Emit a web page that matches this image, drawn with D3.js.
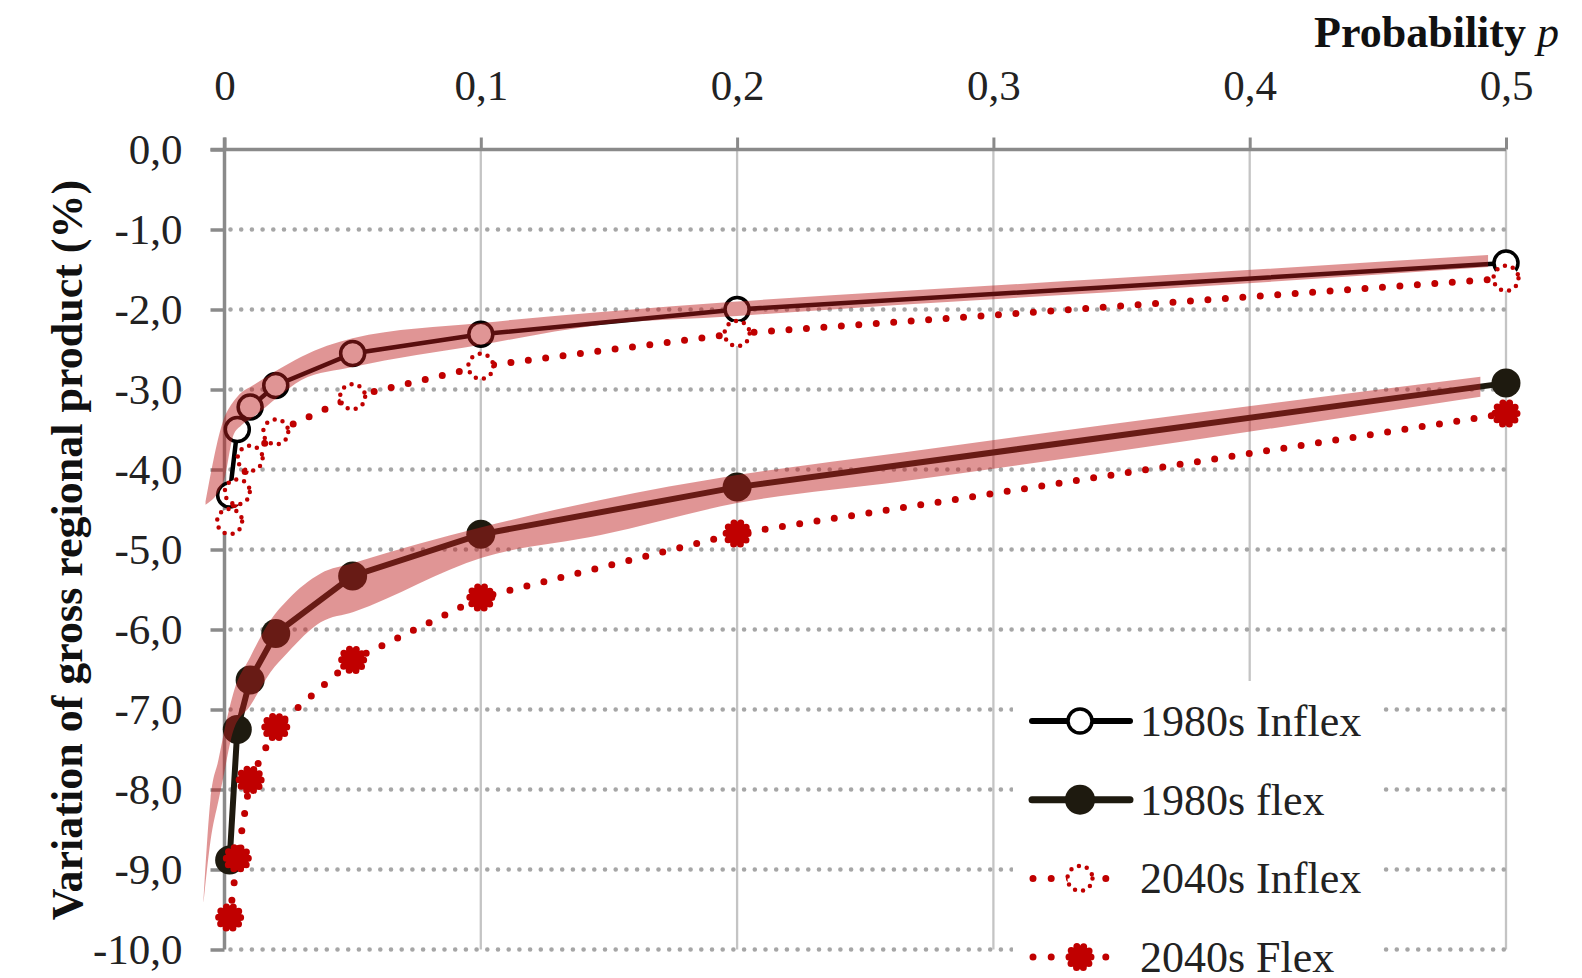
<!DOCTYPE html>
<html>
<head>
<meta charset="utf-8">
<script src="https://cdn.jsdelivr.net/npm/d3@7"></script>
<style>
  body { margin: 0; background: #fff; }
  svg { display: block; font-family: "Liberation Serif", serif; }
</style>
</head>
<body>
<svg id="chart" width="1582" height="978"></svg>
<script>
// values (p = exceedance probability, values in %)
var probability = [0.002, 0.005, 0.01, 0.02, 0.05, 0.1, 0.2, 0.5];
var inflex1980 = [-4.32, -3.50, -3.22, -2.95, -2.55, -2.31, -2.00, -1.42];
var flex1980   = [-8.88, -7.25, -6.63, -6.05, -5.33, -4.81, -4.22, -2.92];
var inflex2040 = [-4.65, -4.28, -3.86, -3.53, -3.09, -2.71, -2.30, -1.61];
var flex2040   = [-9.60, -8.86, -7.88, -7.22, -6.38, -5.60, -4.80, -3.30];

// shaded ranges round the 1980s curves
var band1P     = [-0.0074, -0.0004, 0.0035, 0.0065, 0.011, 0.021, 0.03, 0.05, 0.1, 0.147, 0.2, 0.264, 0.342, 0.493];
var band1Upper = [-4.40, -3.38, -3.15, -3.04, -2.95, -2.75, -2.59, -2.36, -2.17, -2.03, -1.90, -1.77, -1.62, -1.32];
var band1Lower = [-4.44, -4.15, -3.57, -3.45, -3.35, -3.09, -2.88, -2.72, -2.44, -2.19, -2.08, -1.94, -1.79, -1.47];

var band2P     = [-0.0082, -0.0055, -0.0023, -0.0008, 0.0035, 0.0101, 0.018, 0.0246, 0.0375, 0.0503, 0.1007, 0.1468, 0.2, 0.264, 0.342, 0.49];
var band2Upper = [-9.38, -8.13, -7.62, -7.38, -6.79, -6.34, -5.88, -5.63, -5.30, -5.17, -4.72, -4.38, -4.07, -3.79, -3.45, -2.84];
var band2Lower = [-9.42, -8.65, -8.13, -7.90, -7.26, -6.95, -6.53, -6.29, -5.91, -5.78, -5.10, -4.82, -4.42, -4.15, -3.80, -3.09];

var xTicks = [0, 0.1, 0.2, 0.3, 0.4, 0.5];
var xTickLabels = ["0", "0,1", "0,2", "0,3", "0,4", "0,5"];
var yTicks = [0, -1, -2, -3, -4, -5, -6, -7, -8, -9, -10];

var legendNames = ["1980s Inflex", "1980s flex", "2040s Inflex", "2040s Flex"];

var RED = "#c00000", DARK = "#1e1a0f", GRID = "#a6a6a6", AXIS = "#8a8a8a", TXT = "#222";

var svg = d3.select("#chart");

var x = d3.scaleLinear().domain([0, 0.5]).range([224.5, 1506]);
var y = d3.scaleLinear().domain([0, -10]).range([149.5, 949.5]);

// vertical grid
svg.append("g").selectAll("line")
  .data(xTicks.slice(1))
  .enter().append("line")
  .attr("x1", function(d) { return x(d); })
  .attr("x2", function(d) { return x(d); })
  .attr("y1", y(0)).attr("y2", y(-10))
  .attr("stroke", "#c4c4c4").attr("stroke-width", 2.3);

// horizontal dotted grid
svg.append("g").selectAll("line")
  .data(yTicks.slice(1))
  .enter().append("line")
  .attr("x1", x(0) + 6).attr("x2", x(0.5))
  .attr("y1", function(d) { return y(d); })
  .attr("y2", function(d) { return y(d); })
  .attr("stroke", GRID).attr("stroke-width", 4.6)
  .attr("stroke-linecap", "round")
  .attr("stroke-dasharray", "0 10.7");

// top axis (x)
var xAxis = svg.append("g")
  .attr("transform", "translate(0," + y(0) + ")")
  .call(d3.axisTop(x).tickValues(xTicks).tickSize(12).tickSizeOuter(0).tickPadding(38)
    .tickFormat(function(d, i) { return xTickLabels[i]; }));
xAxis.select(".domain").remove();
xAxis.selectAll(".tick line").attr("stroke", AXIS).attr("stroke-width", 3);
xAxis.selectAll(".tick text").attr("fill", TXT).style("font-size", "43px")
  .style("font-family", "Liberation Serif");

// left axis (y)
var yAxis = svg.append("g")
  .attr("transform", "translate(" + x(0) + ",0)")
  .call(d3.axisLeft(y).tickValues(yTicks).tickSize(14).tickSizeOuter(0).tickPadding(28)
    .tickFormat(function(d) { return d.toFixed(1).replace(".", ","); }));
yAxis.select(".domain").remove();
yAxis.selectAll(".tick line").attr("stroke", AXIS).attr("stroke-width", 3.5);
yAxis.selectAll(".tick text").attr("fill", TXT).style("font-size", "43px")
  .style("font-family", "Liberation Serif");

// axis lines
svg.append("line")
  .attr("x1", x(0) - 14).attr("x2", x(0.5))
  .attr("y1", y(0)).attr("y2", y(0))
  .attr("stroke", AXIS).attr("stroke-width", 3.5);
svg.append("line")
  .attr("x1", x(0)).attr("x2", x(0))
  .attr("y1", y(0) - 12).attr("y2", y(-10))
  .attr("stroke", AXIS).attr("stroke-width", 3.5);

var line = d3.line()
  .x(function(d) { return x(d[0]); })
  .y(function(d) { return y(d[1]); });

function pts(vals) { return probability.map(function(p, i) { return [p, vals[i]]; }); }

// 1980s series
svg.append("path").datum(pts(inflex1980)).attr("d", line)
  .attr("fill", "none").attr("stroke", "#000").attr("stroke-width", 4.5);
svg.append("path").datum(pts(flex1980)).attr("d", line)
  .attr("fill", "none").attr("stroke", DARK).attr("stroke-width", 6);

svg.append("g").selectAll("circle").data(pts(inflex1980)).enter()
  .append("circle")
  .attr("cx", function(d) { return x(d[0]); })
  .attr("cy", function(d) { return y(d[1]); })
  .attr("r", 12).attr("fill", "#fff").attr("stroke", "#000").attr("stroke-width", 3.5);
svg.append("g").selectAll("circle").data(pts(flex1980)).enter()
  .append("circle")
  .attr("cx", function(d) { return x(d[0]); })
  .attr("cy", function(d) { return y(d[1]); })
  .attr("r", 14.5).attr("fill", DARK);

// shaded ranges
var area = d3.area()
  .x(function(d) { return x(d[0]); })
  .y0(function(d) { return y(d[1]); })
  .y1(function(d) { return y(d[2]); })
  .curve(d3.curveMonotoneX);

svg.append("path")
  .datum(band1P.map(function(p, i) { return [p, band1Lower[i], band1Upper[i]]; }))
  .attr("d", area).attr("fill", "rgb(190,30,30)").attr("fill-opacity", 0.47);
svg.append("path")
  .datum(band2P.map(function(p, i) { return [p, band2Lower[i], band2Upper[i]]; }))
  .attr("d", area).attr("fill", "rgb(190,30,30)").attr("fill-opacity", 0.47);

// 2040s series
function dotted(sel) {
  return sel.attr("fill", "none").attr("stroke", RED).attr("stroke-width", 7)
    .attr("stroke-linecap", "round").attr("stroke-dasharray", "0 17.5");
}
dotted(svg.append("path").datum(pts(inflex2040)).attr("d", line));
dotted(svg.append("path").datum(pts(flex2040)).attr("d", line));

function openDotMarker(sel) {
  return sel.attr("r", 12.5).attr("fill", "#fff").attr("stroke", RED).attr("stroke-width", 4.5)
    .attr("stroke-linecap", "round").attr("stroke-dasharray", "0 8.2");
}
function starMarker(sel) {
  return sel.attr("r", 11).attr("fill", RED).attr("stroke", RED).attr("stroke-width", 7)
    .attr("stroke-linecap", "round").attr("stroke-dasharray", "0 6.9");
}

openDotMarker(svg.append("g").selectAll("circle").data(pts(inflex2040)).enter()
  .append("circle")
  .attr("cx", function(d) { return x(d[0]); })
  .attr("cy", function(d) { return y(d[1]); }));
starMarker(svg.append("g").selectAll("circle").data(pts(flex2040)).enter()
  .append("circle")
  .attr("cx", function(d) { return x(d[0]); })
  .attr("cy", function(d) { return y(d[1]); }));

// legend
var leg = svg.append("g");
leg.append("rect").attr("x", 1013).attr("y", 681).attr("width", 367).attr("height", 297).attr("fill", "#fff");

var rows = leg.selectAll("g.row").data(legendNames).enter()
  .append("g").attr("class", "row")
  .attr("transform", function(d, i) { return "translate(1032," + (721 + i * 78.7) + ")"; });

rows.each(function(d, i) {
  var g = d3.select(this);
  if (i < 2) {
    g.append("line").attr("x1", 0).attr("x2", 98).attr("y1", 0).attr("y2", 0)
      .attr("stroke", i === 0 ? "#000" : DARK).attr("stroke-width", i === 0 ? 6 : 7)
      .attr("stroke-linecap", "round");
    if (i === 0) {
      g.append("circle").attr("cx", 48).attr("cy", 0).attr("r", 12)
        .attr("fill", "#fff").attr("stroke", "#000").attr("stroke-width", 3.5);
    } else {
      g.append("circle").attr("cx", 48).attr("cy", 0).attr("r", 15).attr("fill", DARK);
    }
  } else {
    g.append("line").attr("x1", 1).attr("x2", 92).attr("y1", 0).attr("y2", 0)
      .attr("stroke", RED).attr("stroke-width", 7)
      .attr("stroke-linecap", "round").attr("stroke-dasharray", "0 18.2");
    var c = g.append("circle").attr("cx", 48).attr("cy", 0);
    if (i === 2) openDotMarker(c); else starMarker(c);
  }
  g.append("text").attr("x", 108).attr("y", 0).attr("dy", "0.34em")
    .attr("fill", TXT).style("font-size", "44px").text(d);
});

// titles
svg.append("text")
  .attr("transform", "translate(82," + 550 + ") rotate(-90)")
  .attr("text-anchor", "middle")
  .attr("fill", "#111").style("font-size", "44px").style("font-weight", "bold")
  .text("Variation of gross regional product (%)");

var pt = svg.append("text")
  .attr("x", 1559).attr("y", 47).attr("text-anchor", "end")
  .attr("fill", "#111").style("font-size", "44px");
pt.append("tspan").style("font-weight", "bold").text("Probability ");
pt.append("tspan").style("font-style", "italic").text("p");
</script>
</body>
</html>
